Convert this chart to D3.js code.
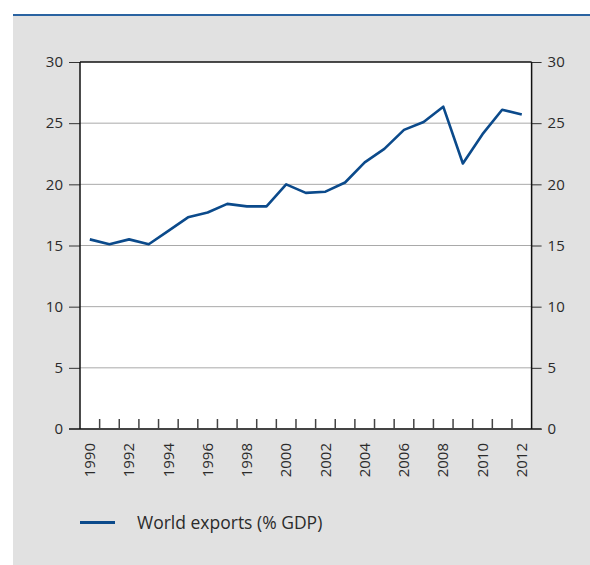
<!DOCTYPE html>
<html>
<head>
<meta charset="utf-8">
<script src="https://cdn.jsdelivr.net/npm/d3@7"></script>
<style>
  body { margin: 0; background: #fff; }
  text { font-family: "Open Sans", sans-serif; fill: #2b2b2b; }
</style>
</head>
<body>
<svg id="chart"></svg>
<script>
// data
const years = d3.range(1990, 2013);
const exportsPct = [15.5, 15.1, 15.5, 15.1, 16.2, 17.3, 17.7, 18.4, 18.2, 18.2,
  20.0, 19.3, 19.4, 20.15, 21.8, 22.9, 24.45, 25.1, 26.35, 21.7, 24.1, 26.1, 25.7];
const yTicks = [0, 5, 10, 15, 20, 25, 30];
const xLabelYears = years.filter(d => d % 2 === 0);
const seriesName = "World exports (% GDP)";

const W = 590, H = 565;
const margin = { top: 62, right: 58.4, bottom: 136, left: 80 };
const lineColor = "#0b4a8b";

const svg = d3.select("#chart").attr("width", W).attr("height", H);

// background panel
svg.append("rect").attr("x", 13).attr("y", 16).attr("width", W - 13).attr("height", H - 16).attr("fill", "#e1e1e1");
svg.append("line").attr("x1", 13).attr("x2", W).attr("y1", 15).attr("y2", 15)
  .attr("stroke", "#2a63a1").attr("stroke-width", 2);

const x = d3.scaleBand().domain(years).range([margin.left, W - margin.right]).padding(0);
const y = d3.scaleLinear().domain([0, 30]).range([H - margin.bottom, margin.top]);
const x0 = margin.left, x1 = W - margin.right;

// plot area
svg.append("rect").attr("x", x0).attr("y", y(30)).attr("width", x1 - x0).attr("height", y(0) - y(30)).attr("fill", "#fff");

// gridlines
svg.append("g").selectAll("line").data(yTicks.filter(d => d > 0 && d < 30)).join("line")
  .attr("x1", x0).attr("x2", x1).attr("y1", d => y(d)).attr("y2", d => y(d))
  .attr("stroke", "#a9a9a9").attr("stroke-width", 1);

// y axes
const left = svg.append("g").attr("transform", `translate(${x0},0)`)
  .call(d3.axisLeft(y).tickValues(yTicks).tickSize(11).tickPadding(6));
const right = svg.append("g").attr("transform", `translate(${x1},0)`)
  .call(d3.axisRight(y).tickValues(yTicks).tickSize(10).tickPadding(6));
[left, right].forEach(g => {
  g.select(".domain").remove();
  g.selectAll("line").attr("stroke", "#333");
  g.selectAll("text").style("font-size", "15px").style("font-family", "'Open Sans', sans-serif").attr("fill", "#2b2b2b");
});

// top line at 30 and bottom axis line at 0
svg.append("line").attr("x1", x0).attr("x2", x1).attr("y1", y(30)).attr("y2", y(30)).attr("stroke", "#111").attr("stroke-width", 1.5);
svg.append("line").attr("x1", x0 - 11).attr("x2", x1 + 10).attr("y1", y(0)).attr("y2", y(0)).attr("stroke", "#444").attr("stroke-width", 2);

// vertical frame
[x0, x1].forEach(xx => svg.append("line").attr("x1", xx).attr("x2", xx).attr("y1", y(30)).attr("y2", y(0))
  .attr("stroke", "#111").attr("stroke-width", 1.5));

// x ticks at band boundaries
svg.append("g").selectAll("line").data(years.slice(1)).join("line")
  .attr("x1", d => x(d)).attr("x2", d => x(d)).attr("y1", y(0)).attr("y2", y(0) - 10)
  .attr("stroke", "#444").attr("stroke-width", 1.5);

// x labels
svg.append("g").selectAll("text").data(xLabelYears).join("text")
  .attr("transform", d => `translate(${x(d) + x.bandwidth() / 2},${y(0) + 14}) rotate(-90)`)
  .attr("text-anchor", "end").attr("dy", "0.35em")
  .style("font-size", "15px").text(d => d);

// series line
const line = d3.line().x((d, i) => x(years[i]) + x.bandwidth() / 2).y(d => y(d));
svg.append("path").datum(exportsPct).attr("d", line)
  .attr("fill", "none").attr("stroke", lineColor).attr("stroke-width", 2.6).attr("stroke-linejoin", "round");

// legend
svg.append("line").attr("x1", 80).attr("x2", 115).attr("y1", 522.5).attr("y2", 522.5)
  .attr("stroke", lineColor).attr("stroke-width", 3);
svg.append("text").attr("x", 137).attr("y", 528.5).style("font-size", "17.5px").text(seriesName);
</script>
</body>
</html>
